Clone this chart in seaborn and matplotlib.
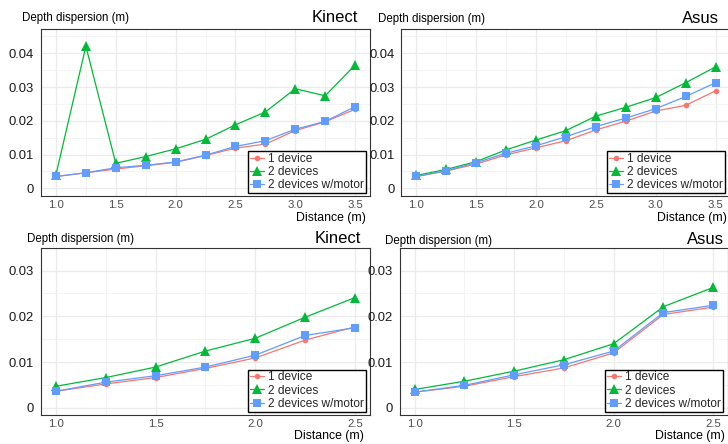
import matplotlib
matplotlib.use("Agg")
import matplotlib.pyplot as plt
import seaborn as sns
import pandas as pd

# ---------------- data ----------------
dist_long = [1.0, 1.25, 1.5, 1.75, 2.0, 2.25, 2.5, 2.75, 3.0, 3.25, 3.5]
dist_short = [1.0, 1.25, 1.5, 1.75, 2.0, 2.25, 2.5]

kinect_long_1dev = [0.0035, 0.0046, 0.0057, 0.0067, 0.0077, 0.0097, 0.0119, 0.0131, 0.0171, 0.0197, 0.0234]
kinect_long_2dev = [0.0040, 0.0421, 0.0074, 0.0094, 0.0117, 0.0145, 0.0188, 0.0226, 0.0295, 0.0274, 0.0365]
kinect_long_motor = [0.0035, 0.0046, 0.0061, 0.0068, 0.0078, 0.0098, 0.0124, 0.0141, 0.0175, 0.0198, 0.0242]

asus_long_1dev = [0.0035, 0.0051, 0.0072, 0.0099, 0.0120, 0.0141, 0.0173, 0.0199, 0.0229, 0.0246, 0.0289]
asus_long_2dev = [0.0038, 0.0056, 0.0079, 0.0114, 0.0143, 0.0171, 0.0214, 0.0240, 0.0269, 0.0313, 0.0360]
asus_long_motor = [0.0035, 0.0052, 0.0076, 0.0104, 0.0126, 0.0153, 0.0183, 0.0208, 0.0236, 0.0272, 0.0313]

kinect_short_1dev = [0.0036, 0.0052, 0.0066, 0.0086, 0.0109, 0.0148, 0.0177]
kinect_short_2dev = [0.0047, 0.0066, 0.0089, 0.0124, 0.0152, 0.0198, 0.0241]
kinect_short_motor = [0.0036, 0.0056, 0.0070, 0.0089, 0.0115, 0.0158, 0.0175]

asus_short_1dev = [0.0034, 0.0047, 0.0068, 0.0087, 0.0120, 0.0204, 0.0220]
asus_short_2dev = [0.0040, 0.0058, 0.0080, 0.0105, 0.0140, 0.0221, 0.0263]
asus_short_motor = [0.0034, 0.0049, 0.0072, 0.0094, 0.0124, 0.0208, 0.0224]

series_labels = ["1 device", "2 devices", "2 devices w/motor"]
panel_titles = ["Kinect", "Asus", "Kinect", "Asus"]
y_label = "Depth dispersion (m)"
x_label = "Distance (m)"
yticks_long = [0, 0.01, 0.02, 0.03, 0.04]
yticks_short = [0, 0.01, 0.02, 0.03]
ytick_labels_long = ["0", "0.01", "0.02", "0.03", "0.04"]
ytick_labels_short = ["0", "0.01", "0.02", "0.03"]
xticks_long = [1.0, 1.5, 2.0, 2.5, 3.0, 3.5]
xticks_short = [1.0, 1.5, 2.0, 2.5]

# ---------------- style ----------------
sns.set_theme(style="white")
plt.rcParams['font.family'] = ['Liberation Sans', 'DejaVu Sans']

colors = ["#F8766D", "#00BA38", "#619CFF"]
markers = ["o", "^", "s"]
msizes = [4.0, 7.8, 6.2]

W, H = 728, 444
fig = plt.figure(figsize=(W / 100, H / 100), dpi=100)
fig.patch.set_facecolor("white")


def add_ax(l, r, t, b):
    return fig.add_axes([l / W, 1 - b / H, (r - l) / W, (b - t) / H])


panels = [
    dict(box=(41, 370, 28.8, 195.9), x=dist_long,
         ys=[kinect_long_1dev, kinect_long_2dev, kinect_long_motor],
         xlim=(0.875, 3.625), ylim=(-0.00225, 0.04725),
         yt=yticks_long, ytl=ytick_labels_long, xt=xticks_long,
         ylab=(21.7, 18.0), title=(358, 18.0), xlab=(366, 217.5), legr=366),
    dict(box=(401.3, 730.7, 28.8, 195.9), x=dist_long,
         ys=[asus_long_1dev, asus_long_2dev, asus_long_motor],
         xlim=(0.875, 3.625), ylim=(-0.00225, 0.04725),
         yt=yticks_long, ytl=ytick_labels_long, xt=xticks_long,
         ylab=(378, 19.0), title=(719, 18.3), xlab=(727, 217.5), legr=725),
    dict(box=(41, 370, 247.7, 414.6), x=dist_short,
         ys=[kinect_short_1dev, kinect_short_2dev, kinect_short_motor],
         xlim=(0.925, 2.575), ylim=(-0.0015, 0.0315),
         yt=yticks_short, ytl=ytick_labels_short, xt=xticks_short,
         ylab=(26.7, 238.7), title=(361, 238.7), xlab=(364, 436), legr=366),
    dict(box=(399.8, 728, 247.7, 414.6), x=dist_short,
         ys=[asus_short_1dev, asus_short_2dev, asus_short_motor],
         xlim=(0.925, 2.575), ylim=(-0.0015, 0.0315),
         yt=yticks_short, ytl=ytick_labels_short, xt=xticks_short,
         ylab=(384.7, 241.0), title=(724, 239.3), xlab=(725, 436), legr=723),
]

for i, p in enumerate(panels):
    l, r, t, b = p["box"]
    ax = add_ax(l, r, t, b)
    for j in range(3):
        df = pd.DataFrame({"Distance": p["x"], "Dispersion": p["ys"][j]})
        sns.lineplot(data=df, x="Distance", y="Dispersion", ax=ax,
                     color=colors[j], marker=markers[j], markersize=msizes[j],
                     markeredgewidth=0, linewidth=0.9, label=series_labels[j],
                     zorder=3 + j)
    ax.set_xlim(*p["xlim"])
    ax.set_ylim(*p["ylim"])
    ax.set_xticks(p["xt"])
    ax.set_xticklabels([f"{v:.1f}" for v in p["xt"]])
    ax.set_yticks(p["yt"])
    ax.set_yticklabels(p["ytl"])
    xt = p["xt"]
    ax.set_xticks([v + 0.25 for v in xt[:-1]], minor=True)
    ax.set_yticks([v + 0.005 for v in p["yt"]], minor=True)
    ax.set_axisbelow(True)
    ax.grid(True, which="major", color="#EBEBEB", linewidth=0.9)
    ax.grid(True, which="minor", color="#F2F2F2", linewidth=0.6)
    ax.tick_params(axis="both", which="major", direction="out", length=2.2,
                   width=0.7, color="#333333")
    ax.tick_params(axis="x", which="major", labelsize=8.2, labelcolor="#4D4D4D", pad=0.8)
    ax.tick_params(axis="y", which="major", labelsize=9.4, labelcolor="#1A1A1A", pad=2.8)
    ax.tick_params(axis="both", which="minor", length=0)
    ax.set_xlabel("")
    ax.set_ylabel("")
    for s in ax.spines.values():
        s.set_color("#333333")
        s.set_linewidth(0.8)
        s.set_visible(True)
    wpx, hpx = r - l, b - t
    leg = ax.legend(loc="lower right",
                    bbox_to_anchor=(1 - (r - p["legr"]) / wpx, 3 / hpx),
                    borderaxespad=0, frameon=True, fancybox=False,
                    edgecolor="black", facecolor="white", framealpha=1,
                    fontsize=8.6, handlelength=1.15, handletextpad=0.4,
                    labelspacing=0.1, borderpad=0.15)
    leg.get_frame().set_linewidth(1.0)
    leg.set_zorder(10)
    fig.text(p["ylab"][0] / W, 1 - p["ylab"][1] / H, y_label, ha="left", va="center",
             fontsize=8.3, color="black")
    fig.text(p["title"][0] / W, 1 - p["title"][1] / H, panel_titles[i], ha="right",
             va="center", fontsize=12, color="black")
    fig.text(p["xlab"][0] / W, 1 - p["xlab"][1] / H, x_label, ha="right", va="center",
             fontsize=8.8, color="black")

fig.savefig("out.png", dpi=100, facecolor="white")
